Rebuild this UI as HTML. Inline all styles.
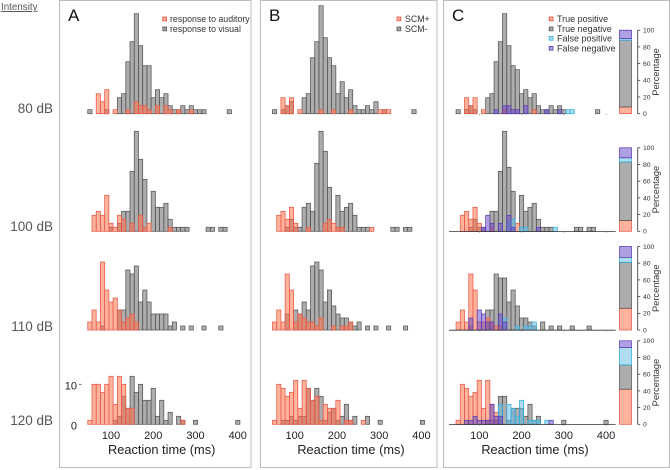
<!DOCTYPE html>
<html>
<head>
<meta charset="utf-8">
<title>Reaction time histograms</title>
<style>
html,body{margin:0;padding:0;background:#fff;width:670px;height:470px;overflow:hidden}
svg{display:block;font-family:"Liberation Sans",sans-serif}
</style>
</head>
<body>
<svg id="chart" xmlns="http://www.w3.org/2000/svg" width="670" height="470" viewBox="0 0 670 470">
  <rect x="59.5" y="0.5" width="191.5" height="467" fill="none" stroke="#bdbdbd" stroke-width="1"/>
  <rect x="260.5" y="0.5" width="176.5" height="467" fill="none" stroke="#bdbdbd" stroke-width="1"/>
  <rect x="443.5" y="0.5" width="226" height="467" fill="none" stroke="#bdbdbd" stroke-width="1"/>

  <text x="1" y="10" font-size="9.8" fill="#555" text-decoration="underline">Intensity</text>
  <text x="53" y="113" font-size="13.5" fill="#555" text-anchor="end">80 dB</text>
  <text x="53" y="231" font-size="13.5" fill="#555" text-anchor="end">100 dB</text>
  <text x="53" y="331" font-size="13.5" fill="#555" text-anchor="end">110 dB</text>
  <text x="53" y="425" font-size="13.5" fill="#555" text-anchor="end">120 dB</text>

  <text x="68" y="21" font-size="17" fill="#111">A</text>
  <text x="269" y="21" font-size="17" fill="#111">B</text>
  <text x="452" y="21" font-size="17" fill="#111">C</text>

  <g id="marks"></g>
  <g id="axes"></g>

  <g font-size="8.8" fill="#333">
    <rect x="162.8" y="17" width="3.8" height="3.8" fill="#ffb094" stroke="#e05040" stroke-width=".8"/>
    <text x="170" y="22">response to auditory</text>
    <rect x="162.8" y="27" width="3.8" height="3.8" fill="#a8a8a8" stroke="#555" stroke-width=".8"/>
    <text x="170" y="32">response to visual</text>
  </g>
  <g font-size="8.8" fill="#333">
    <rect x="397" y="17" width="3.8" height="3.8" fill="#ffb094" stroke="#e05040" stroke-width=".8"/>
    <text x="405" y="22">SCM+</text>
    <rect x="397" y="27" width="3.8" height="3.8" fill="#a8a8a8" stroke="#555" stroke-width=".8"/>
    <text x="405" y="32">SCM-</text>
  </g>
  <g font-size="9" fill="#333">
    <rect x="549.2" y="17" width="3.8" height="3.8" fill="#ffb094" stroke="#e05040" stroke-width=".8"/>
    <text x="557" y="22">True positive</text>
    <rect x="549.2" y="27" width="3.8" height="3.8" fill="#a8a8a8" stroke="#555" stroke-width=".8"/>
    <text x="557" y="32">True negative</text>
    <rect x="549.2" y="36.4" width="3.8" height="3.8" fill="#a8dcf0" stroke="#30b0dc" stroke-width=".8"/>
    <text x="557" y="41.4">False positive</text>
    <rect x="549.2" y="46.4" width="3.8" height="3.8" fill="#b0a0e0" stroke="#6040b0" stroke-width=".8"/>
    <text x="557" y="51.4">False negative</text>
  </g>

  <text x="161.7" y="454" font-size="12.8" fill="#222" text-anchor="middle">Reaction time (ms)</text>
  <text x="351" y="454" font-size="12.8" fill="#222" text-anchor="middle">Reaction time (ms)</text>
  <text x="535" y="454" font-size="12.8" fill="#222" text-anchor="middle">Reaction time (ms)</text>
</svg>

<script>
// Bin centres in ms; every count array below runs over these bins.
const bins = [50,60,70,80,90, 100,110,120,130,140, 150,160,170,180,190, 200,210,220,230,240, 250,260,270,280,290, 300,310,320,330,340, 350,360,370,380,390, 400];

// Panel A counts
const aVisual80   = [1,0,0,0,1, 0,0,4,5,13, 18,25,17,12,12, 4,6,4,5,2, 1,1,2,1,2, 1,1,1,0,0, 0,0,0,1,0, 0];
const aAuditory80 = [0,0,5,3,6, 0,1,0,0,1, 0,3,2,2,1, 0,2,0,2,1, 0,1,0,0,1, 0,0,0,0,0, 0,0,0,0,0, 0];
const aVisual100   = [0,0,0,0,0, 1,0,2,5,5, 15,25,18,13,0, 10,6,6,7,3, 1,1,1,1,0, 0,0,0,1,1, 0,1,1,0,0, 0];
const aAuditory100 = [0,4,5,4,9, 2,1,4,3,0, 2,0,4,1,2, 0,0,0,0,1, 0,0,0,0,0, 0,0,0,0,0, 0,0,0,0,0, 0];
const aVisual110   = [0,0,0,1,0, 0,0,5,5,15, 14,16,7,10,7, 4,4,4,4,1, 2,0,1,0,1, 0,0,1,0,0, 0,1,0,0,0, 0];
const aAuditory110 = [2,5,2,17,10, 7,8,5,2,3, 4,2,0,0,0, 0,0,0,0,0, 0,0,0,0,0, 0,0,0,0,0, 0,0,0,0,0, 0];
const aVisual120   = [0,0,0,0,0, 0,1,2,7,4, 12,8,10,6,6, 9,2,6,1,3, 0,2,1,0,0, 1,0,0,0,0, 0,0,0,0,0, 1];
const aAuditory120 = [1,10,10,8,10, 12,5,12,10,4, 4,0,0,0,0, 0,0,0,0,0, 0,0,1,0,0, 0,0,0,0,0, 0,0,0,0,0, 0];

// Panel B counts
const bMinus80 = [1,0,1,2,3, 0,0,4,5,14, 18,27,19,14,12, 5,8,4,6,2, 1,1,2,1,3, 0,1,0,0,0, 0,0,0,1,0, 0];
const bPlus80  = [0,0,4,2,4, 0,1,0,0,0, 0,1,0,0,1, 0,0,0,1,0, 0,0,0,0,0, 1,1,1,0,0, 0,0,0,0,0, 0];
const bMinus100 = [0,0,0,1,3, 1,1,6,7,5, 17,25,20,11,0, 9,5,6,7,4, 1,1,1,0,0, 0,0,0,1,1, 0,1,1,0,0, 0];
const bPlus100  = [0,4,5,3,6, 2,0,0,1,0, 0,0,2,3,2, 1,1,0,0,0, 0,0,0,1,0, 0,0,0,0,0, 0,0,0,0,0, 0];
const bMinus110 = [0,0,0,4,0, 5,4,7,5,16, 17,15,7,10,6, 4,3,3,2,1, 2,0,1,0,1, 0,0,1,0,0, 0,1,0,0,0, 0];
const bPlus110  = [2,5,2,14,10, 2,4,3,2,2, 1,3,0,0,1, 0,1,1,2,0, 0,0,0,0,0, 0,0,0,0,0, 0,0,0,0,0, 0];
const bMinus120 = [0,0,1,1,2, 1,2,2,9,6, 9,7,1,3,4, 1,2,5,1,2, 0,0,2,0,0, 1,0,0,0,0, 0,0,0,0,0, 1];
const bPlus120  = [1,10,9,7,8, 11,4,11,9,6, 7,1,5,4,4, 6,0,1,1,0, 0,1,0,0,0, 0,0,0,0,0, 0,0,0,0,0, 0];

// Panel C counts
const cTrueNeg80  = [1,0,1,2,1, 0,0,4,5,13, 18,25,17,12,11, 5,6,4,5,2, 1,1,2,1,2, 1,0,0,0,0, 0,0,0,1,0, 0];
const cTruePos80  = [0,0,4,2,4, 0,1,0,0,0, 0,1,0,0,0, 0,0,0,1,0, 0,0,0,0,0, 0,0,0,0,0, 0,0,0,0,0, 0];
const cFalsePos80 = [0,0,0,0,0, 0,0,0,0,0, 0,0,0,0,0, 0,0,0,0,0, 0,0,0,0,0, 0,1,1,0,0, 0,0,0,0,0, 0];
const cFalseNeg80 = [0,0,0,0,0, 0,0,0,0,1, 0,2,2,1,1, 0,2,0,0,0, 0,1,0,0,1, 0,0,0,0,0, 0,0,0,0,0, 0];

const cTrueNeg100  = [0,0,0,1,3, 1,1,0,5,5, 15,25,16,10,0, 9,5,6,7,3, 1,1,1,0,0, 0,0,0,1,1, 0,1,1,0,0, 0];
const cTruePos100  = [0,4,5,3,6, 2,0,0,1,0, 0,0,0,0,2, 0,0,0,0,0, 0,0,0,0,0, 0,0,0,0,0, 0,0,0,0,0, 0];
const cFalsePos100 = [0,0,0,0,0, 0,0,0,0,0, 0,0,2,3,0, 1,1,0,0,0, 0,0,0,1,0, 0,0,0,0,0, 0,0,0,0,0, 0];
const cFalseNeg100 = [0,0,0,0,0, 0,1,4,2,0, 2,0,4,1,0, 0,0,0,0,1, 0,0,0,0,0, 0,0,0,0,0, 0,0,0,0,0, 0];

const cTrueNeg110  = [0,0,0,1,0, 0,0,5,5,14, 13,13,7,10,6, 3,3,2,1,0, 2,0,1,0,1, 0,0,1,0,0, 0,1,0,0,0, 0];
const cTruePos110  = [2,5,2,14,10, 2,2,3,2,1, 1,0,0,0,0, 0,0,0,0,0, 0,0,0,0,0, 0,0,0,0,0, 0,0,0,0,0, 0];
const cFalsePos110 = [0,0,0,0,0, 0,0,0,0,0, 0,3,0,0,1, 0,1,1,2,0, 0,0,0,0,0, 0,0,0,0,0, 0,0,0,0,0, 0];
const cFalseNeg110 = [0,0,0,3,0, 5,4,2,2,0, 4,2,0,0,0, 0,0,0,0,0, 0,0,0,0,0, 0,0,0,0,0, 0,0,0,0,0, 0];

const cTrueNeg120  = [0,0,0,0,0, 0,0,1,1,1, 7,7,1,4,4, 4,2,5,1,2, 0,0,0,0,0, 1,0,0,0,0, 0,0,0,0,0, 1];
const cTruePos120  = [1,10,9,7,8, 11,4,11,5,3, 1,0,0,0,0, 0,0,0,0,0, 0,0,0,0,0, 0,0,0,0,0, 0,0,0,0,0, 0];
const cFalsePos120 = [0,0,0,0,0, 0,0,0,0,0, 5,0,5,4,2, 6,0,1,1,1, 0,1,0,0,0, 0,0,0,0,0, 0,0,0,0,0, 0];
const cFalseNeg120 = [0,0,1,1,2, 1,1,1,5,2, 2,0,0,0,0, 0,0,0,0,0, 0,0,1,0,0, 0,0,0,0,0, 0,0,0,0,0, 0];

// Stacked outcome percentages per intensity (80, 100, 110, 120 dB)
const stackTruePos  = [8, 13, 26, 42];
const stackTrueNeg  = [80, 70, 55, 29];
const stackFalsePos = [2, 5, 6, 21];
const stackFalseNeg = [10, 12, 13, 8];

// Axis tick labels
const xTickValues = [100, 200, 300, 400];
const pctTickValues = [0, 20, 40, 60, 80, 100];
const countTickValues = [0, 10];
</script>
<script>
const NS = 'http://www.w3.org/2000/svg';
const marks = document.getElementById('marks');
const axes = document.getElementById('axes');

const rowBaseY = [113.7, 231.3, 330, 424.3];
const panelX100 = { a: 111, b: 295.7, c: 479.3 };
const pxPerMs = 0.4225;
const pxPerCount = 4;
const pxPerPct = 0.835;

function xScale(panel, ms) { return panelX100[panel] + (ms - 100) * pxPerMs; }
function countScale(row, n) { return rowBaseY[row] - n * pxPerCount; }
function pctScale(row, p) { return rowBaseY[row] - p * pxPerPct; }

const seriesStyles = {
  grey:   { fill: 'rgba(105,105,105,.55)', stroke: '#565656' },
  red:    { fill: 'rgba(255,110,65,.52)',  stroke: '#e8584a' },
  blue:   { fill: 'rgba(95,185,225,.5)',   stroke: '#2fb0dc' },
  purple: { fill: 'rgba(95,65,195,.5)',    stroke: '#5c3cb0' }
};

function add(parent, tag, attrs) {
  const el = document.createElementNS(NS, tag);
  for (const k in attrs) el.setAttribute(k, attrs[k]);
  parent.appendChild(el);
  return el;
}

function drawHistogram(panel, row, counts, style, label) {
  const g = add(marks, 'g', {});
  
  
  const s = seriesStyles[style];
  const w = pxPerMs * 10;
  counts.forEach(function (n, i) {
    if (!n) return;
    const yTop = countScale(row, n);
    const r = add(g, 'rect', {
      x: xScale(panel, bins[i]) - w / 2, y: yTop, width: w, height: rowBaseY[row] - yTop,
      fill: s.fill, stroke: s.stroke, 'stroke-width': 0.75
    });
    
    
  });
}

const rowTags = ['80db', '100db', '110db', '120db'];
[[aVisual80, aAuditory80], [aVisual100, aAuditory100], [aVisual110, aAuditory110], [aVisual120, aAuditory120]].forEach(function (p, row) {
  drawHistogram('a', row, p[0], 'grey', 'visual-' + rowTags[row]);
  drawHistogram('a', row, p[1], 'red', 'auditory-' + rowTags[row]);
});
[[bMinus80, bPlus80], [bMinus100, bPlus100], [bMinus110, bPlus110], [bMinus120, bPlus120]].forEach(function (p, row) {
  drawHistogram('b', row, p[0], 'grey', 'scm-minus-' + rowTags[row]);
  drawHistogram('b', row, p[1], 'red', 'scm-plus-' + rowTags[row]);
});
[[cTrueNeg80, cTruePos80, cFalsePos80, cFalseNeg80],
 [cTrueNeg100, cTruePos100, cFalsePos100, cFalseNeg100],
 [cTrueNeg110, cTruePos110, cFalsePos110, cFalseNeg110],
 [cTrueNeg120, cTruePos120, cFalsePos120, cFalseNeg120]].forEach(function (p, row) {
  drawHistogram('c', row, p[0], 'grey', 'true-negative-' + rowTags[row]);
  drawHistogram('c', row, p[1], 'red', 'true-positive-' + rowTags[row]);
  drawHistogram('c', row, p[2], 'blue', 'false-positive-' + rowTags[row]);
  drawHistogram('c', row, p[3], 'purple', 'false-negative-' + rowTags[row]);
});

// Panel C baselines (rows 2-4) and ticks
rowBaseY.forEach(function (y, row) {
  if (row > 0) {
    const l = add(axes, 'line', { x1: 449, x2: 615.7, y1: y + 0.2, y2: y + 0.2, stroke: '#333', 'stroke-width': 0.8 });
    
    
  }
  xTickValues.forEach(function (v) {
    const t = add(axes, 'line', { x1: xScale('c', v), x2: xScale('c', v), y1: y + 0.2, y2: y + 1.4, stroke: '#777', 'stroke-width': 0.7 });
    
    
  });
});

// X tick labels along the bottom row
['a', 'b', 'c'].forEach(function (panel) {
  xTickValues.forEach(function (v) {
    const t = add(axes, 'text', { x: xScale(panel, v) - (panel === 'b' ? 1 : 0), y: 439, 'font-size': 11, fill: '#222', 'text-anchor': 'middle' });
    
    
    t.textContent = v;
  });
});

// Count axis in panel A, bottom row
countTickValues.forEach(function (v) {
  const y = countScale(3, v);
  const t = add(axes, 'text', { x: 77, y: y + 5, 'font-size': 11, fill: '#222', 'text-anchor': 'end' });
  
  
  t.textContent = v;
  if (v > 0) {
    const m = add(axes, 'line', { x1: 79, x2: 81.5, y1: y, y2: y, stroke: '#444', 'stroke-width': 0.8 });
    
    
  }
});

// Stacked percentage bars
const stackX = 619.5, stackW = 12;
rowBaseY.forEach(function (y, row) {
  const segs = [
    [stackTruePos[row], 'red', 'true-positive'],
    [stackTrueNeg[row], 'grey', 'true-negative'],
    [stackFalsePos[row], 'blue', 'false-positive'],
    [stackFalseNeg[row], 'purple', 'false-negative']
  ];
  let acc = 0;
  segs.forEach(function (s) {
    const top = pctScale(row, acc + s[0]);
    const bot = pctScale(row, acc);
    const st = seriesStyles[s[1]];
    const r = add(marks, 'rect', { x: stackX, y: top, width: stackW, height: bot - top, fill: st.fill, stroke: st.stroke, 'stroke-width': 0.75 });
    
    
    acc += s[0];
  });

  const ax = add(axes, 'line', { x1: 637.7, x2: 637.7, y1: pctScale(row, 100), y2: pctScale(row, 0), stroke: '#333', 'stroke-width': 0.8 });
  
  
  pctTickValues.forEach(function (p) {
    const py = pctScale(row, p);
    const m = add(axes, 'line', { x1: 637.7, x2: 640.2, y1: py, y2: py, stroke: '#333', 'stroke-width': 0.8 });
    
    
    const t = add(axes, 'text', { x: 643, y: py + 2.4, 'font-size': 6.8, fill: '#333' });
    
    
    t.textContent = p;
  });
  const cy = pctScale(row, 50);
  const title = add(axes, 'text', { x: 659, y: cy, 'font-size': 9.3, fill: '#333', 'text-anchor': 'middle', transform: 'rotate(-90 659 ' + cy + ')' });
  
  
  title.textContent = 'Percentage';
});
</script>
</body>
</html>
